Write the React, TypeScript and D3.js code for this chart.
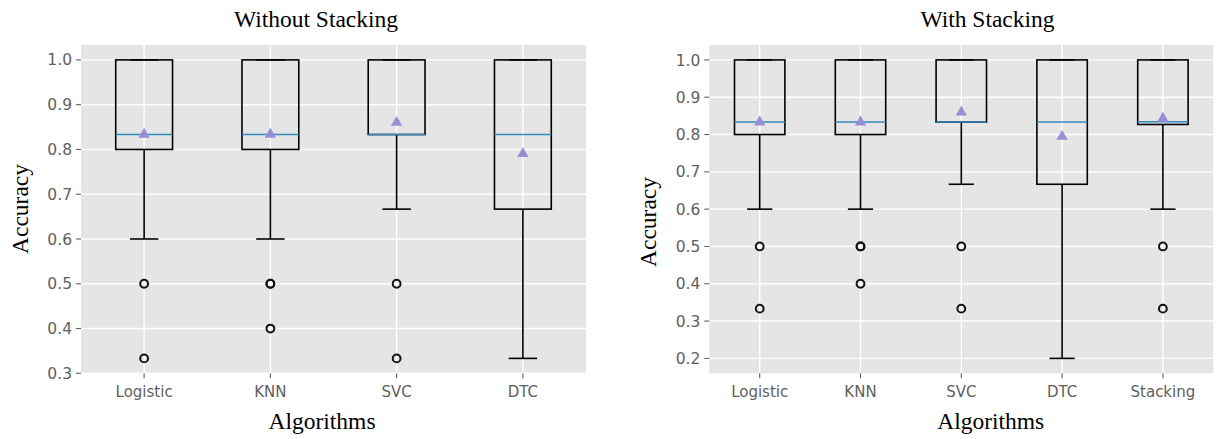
import React from "react";
import * as d3 from "d3";

// ---------- data ----------
const leftCategories = ["Logistic", "KNN", "SVC", "DTC"];
const leftQ1 = [0.8, 0.8, 0.8333, 0.6667];
const leftMedian = [0.8333, 0.8333, 0.8333, 0.8333];
const leftQ3 = [1.0, 1.0, 1.0, 1.0];
const leftWhiskerLow = [0.6, 0.6, 0.6667, 0.3333];
const leftWhiskerHigh = [1.0, 1.0, 1.0, 1.0];
const leftMean = [0.8355, 0.8355, 0.862, 0.792];
const leftOutliers = [[0.5, 0.3333], [0.5, 0.5, 0.4], [0.5, 0.3333], []];
const leftYTicks = [0.3, 0.4, 0.5, 0.6, 0.7, 0.8, 0.9, 1.0];

const rightCategories = ["Logistic", "KNN", "SVC", "DTC", "Stacking"];
const rightQ1 = [0.8, 0.8, 0.8333, 0.6667, 0.827];
const rightMedian = [0.8333, 0.8333, 0.8333, 0.8333, 0.834];
const rightQ3 = [1.0, 1.0, 1.0, 1.0, 1.0];
const rightWhiskerLow = [0.6, 0.6, 0.6667, 0.2, 0.6];
const rightWhiskerHigh = [1.0, 1.0, 1.0, 1.0, 1.0];
const rightMean = [0.8355, 0.8355, 0.862, 0.797, 0.8455];
const rightOutliers = [[0.5, 0.3333], [0.5, 0.5, 0.4], [0.5, 0.3333], [], [0.5, 0.3333]];
const rightYTicks = [0.2, 0.3, 0.4, 0.5, 0.6, 0.7, 0.8, 0.9, 1.0];

const titles = ["Without Stacking", "With Stacking"];
const xLabel = "Algorithms";
const yLabel = "Accuracy";

// ---------- styles ----------
const BG = "#E5E5E5";
const MEDIAN = "#348ABD";
const MEAN = "#988ED5";
const TICK = "#606060";
const SERIF = "'Liberation Serif', 'Times New Roman', serif";
const SANS = "'DejaVu Sans', sans-serif";
const LW = 1.6;

type PanelProps = {
  cats: string[];
  q1: number[];
  med: number[];
  q3: number[];
  wlo: number[];
  whi: number[];
  mean: number[];
  outl: number[][];
  yTicks: number[];
  yDomain: [number, number];
  x0: number;
  x1: number;
  boxW: number;
  title: string;
  titleX: number;
  xLabelX: number;
  yLabelX: number;
  yLabelY: number;
};

function Panel(p: PanelProps) {
  const top = 45;
  const bottom = 373.3;
  const n = p.cats.length;
  const x = d3.scaleLinear().domain([0.5, n + 0.5]).range([p.x0, p.x1]);
  const y = d3.scaleLinear().domain(p.yDomain).range([bottom, top]);
  const bw = (x(1 + p.boxW) - x(1)) / 2;
  const cw = bw / 2;
  const tri = d3.symbol().type(d3.symbolTriangle).size(56)();
  return (
    <g>
      <rect x={p.x0} y={top} width={p.x1 - p.x0} height={bottom - top} fill={BG} />
      {p.yTicks.map((t) => (
        <g key={"y" + t}>
          <line x1={p.x0} x2={p.x1} y1={y(t)} y2={y(t)} stroke="#fff" strokeWidth={1.4} />
          <line x1={p.x0 - 5} x2={p.x0} y1={y(t)} y2={y(t)} stroke={TICK} strokeWidth={1.1} />
          <text x={p.x0 - 9} y={y(t)} dy="0.36em" textAnchor="end" fontFamily={SANS} fontSize={15.5} fill={TICK}>
            {t.toFixed(1)}
          </text>
        </g>
      ))}
      {p.cats.map((c, i) => (
        <g key={"x" + c}>
          <line x1={x(i + 1)} x2={x(i + 1)} y1={top} y2={bottom} stroke="#fff" strokeWidth={1.4} />
          <line x1={x(i + 1)} x2={x(i + 1)} y1={bottom} y2={bottom + 5} stroke={TICK} strokeWidth={1.1} />
          <text x={x(i + 1)} y={397} textAnchor="middle" fontFamily={SANS} fontSize={15} fill={TICK}>
            {c}
          </text>
        </g>
      ))}
      {p.cats.map((c, i) => {
        const cx = x(i + 1);
        return (
          <g key={"b" + c}>
            <line x1={cx} x2={cx} y1={y(p.q1[i])} y2={y(p.wlo[i])} stroke="#000" strokeWidth={LW} />
            <line x1={cx} x2={cx} y1={y(p.q3[i])} y2={y(p.whi[i])} stroke="#000" strokeWidth={LW} />
            <line x1={cx - cw} x2={cx + cw} y1={y(p.wlo[i])} y2={y(p.wlo[i])} stroke="#000" strokeWidth={LW} />
            <line x1={cx - cw} x2={cx + cw} y1={y(p.whi[i])} y2={y(p.whi[i])} stroke="#000" strokeWidth={LW} />
            <rect x={cx - bw} y={y(p.q3[i])} width={2 * bw} height={y(p.q1[i]) - y(p.q3[i])} fill="none" stroke="#000" strokeWidth={LW} />
            <line x1={cx - bw} x2={cx + bw} y1={y(p.med[i])} y2={y(p.med[i])} stroke={MEDIAN} strokeWidth={1.5} />
            {p.outl[i].map((o, k) => (
              <circle key={k} cx={cx} cy={y(o)} r={3.9} fill="none" stroke="#111" strokeWidth={2} />
            ))}
            <path d={tri as string} transform={`translate(${cx},${y(p.mean[i]) + 0.8})`} fill={MEAN} />
          </g>
        );
      })}
      <text x={p.titleX} y={27} textAnchor="middle" fontFamily={SERIF} fontSize={23.5} fill="#000">
        {p.title}
      </text>
      <text x={p.xLabelX} y={429} textAnchor="middle" fontFamily={SERIF} fontSize={23.5} fill="#000">
        {xLabel}
      </text>
      <text transform={`translate(${p.yLabelX},${p.yLabelY}) rotate(-90)`} textAnchor="middle" fontFamily={SERIF} fontSize={23.5} fill="#000">
        {yLabel}
      </text>
    </g>
  );
}

export default function App() {
  return (
    <svg width={1218} height={439} style={{ position: "absolute", left: 0, top: 0, background: "#fff" }}>
      <rect width={1218} height={439} fill="#fff" />
      <Panel
        cats={leftCategories}
        q1={leftQ1}
        med={leftMedian}
        q3={leftQ3}
        wlo={leftWhiskerLow}
        whi={leftWhiskerHigh}
        mean={leftMean}
        outl={leftOutliers}
        yTicks={leftYTicks}
        yDomain={[0.3, 1.0333]}
        x0={81}
        x1={586}
        boxW={0.45}
        title={titles[0]}
        titleX={316}
        xLabelX={322}
        yLabelX={28}
        yLabelY={209}
      />
      <Panel
        cats={rightCategories}
        q1={rightQ1}
        med={rightMedian}
        q3={rightQ3}
        wlo={rightWhiskerLow}
        whi={rightWhiskerHigh}
        mean={rightMean}
        outl={rightOutliers}
        yTicks={rightYTicks}
        yDomain={[0.16, 1.04]}
        x0={709.3}
        x1={1213.3}
        boxW={0.5}
        title={titles[1]}
        titleX={987.5}
        xLabelX={990.7}
        yLabelX={656}
        yLabelY={222}
      />
    </svg>
  );
}
